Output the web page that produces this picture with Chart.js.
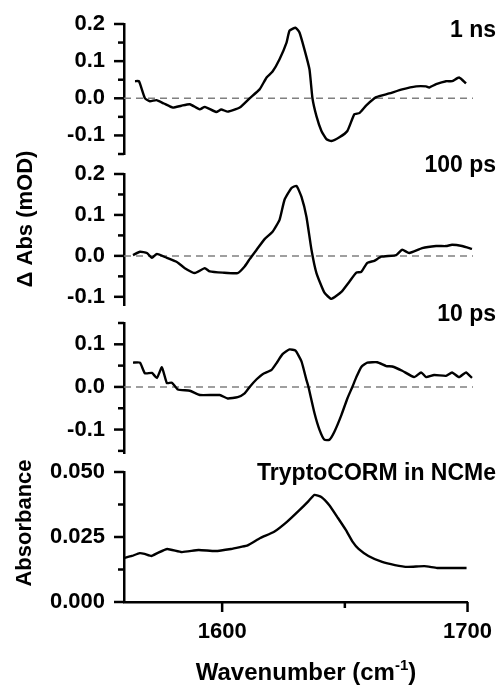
<!DOCTYPE html>
<html><head><meta charset="utf-8">
<script src="https://cdn.jsdelivr.net/npm/chart.js@4"></script>
<style>
html,body{margin:0;padding:0;background:#fff;}
#wrap{position:relative;width:499px;height:686px;overflow:hidden;}
#wrap canvas{position:absolute;left:0;top:0;}
</style></head><body>
<div id="wrap">
<canvas id="c1" width="499" height="686"></canvas>
<canvas id="c2" width="499" height="686"></canvas>
<canvas id="c3" width="499" height="686"></canvas>
<canvas id="c4" width="499" height="686"></canvas>
</div>
<script>
// ---- data ----
const wn1 = [1564.4,1566,1568.4,1570.4,1573,1576,1579.6,1583,1586.4,1590.4,1592.4,1597,1599,1601.6,1606.4,1610.4,1614.4,1617.2,1619.6,1622.4,1625.2,1626.4,1628.8,1630.4,1632.4,1634.4,1635.6,1637.2,1639.2,1641.2,1643.2,1646.4,1649.6,1652.4,1654.4,1657.2,1661.2,1666.4,1671.6,1677.2,1681.2,1682.4,1685.2,1689.2,1691.6,1694.4,1697.2];
const abs1 = [0.046,0.046,0.0,-0.008,-0.005,-0.014,-0.025,-0.02,-0.016,-0.03,-0.023,-0.037,-0.03,-0.036,-0.025,0.0,0.024,0.056,0.072,0.105,0.15,0.182,0.19,0.177,0.131,0.078,0.0,-0.048,-0.088,-0.11,-0.115,-0.105,-0.088,-0.043,-0.04,-0.019,0.003,0.013,0.024,0.032,0.032,0.029,0.038,0.046,0.046,0.056,0.04];

const wn2 = [1563.6,1566.4,1569.2,1571.2,1573.2,1577.2,1581.2,1584.4,1588.4,1592.4,1594.4,1599.6,1605.6,1608.4,1610.4,1613.2,1616.4,1619.6,1622.4,1624.4,1627.2,1629.2,1631.2,1633.2,1635.2,1637.2,1640.4,1643.2,1647.2,1650.4,1653.2,1655.2,1657.6,1660.4,1663.2,1669.2,1671.6,1674.4,1679.6,1685.2,1689.2,1691.6,1695.6,1699.6];
const abs2 = [0.002,0.01,0.007,-0.005,0.005,-0.005,-0.015,-0.03,-0.042,-0.03,-0.038,-0.041,-0.042,-0.026,-0.008,0.015,0.041,0.059,0.088,0.137,0.166,0.171,0.144,0.095,0.015,-0.042,-0.09,-0.105,-0.088,-0.063,-0.041,-0.039,-0.017,-0.012,-0.002,0.002,0.015,0.007,0.019,0.024,0.024,0.027,0.024,0.017];

const wn3 = [1563.6,1566.4,1568.4,1571.2,1573.2,1575.2,1577.2,1579.2,1581.6,1586.4,1590.4,1598.4,1601.6,1605.6,1608.4,1610.4,1613.2,1615.6,1619.2,1621.2,1623.6,1626.4,1628.8,1631.2,1633.2,1634,1636.4,1638.4,1640.4,1642.4,1644.4,1647.2,1649.6,1651.6,1653.2,1655.2,1657.6,1661.6,1665.2,1667.6,1671.6,1676.4,1679.2,1681.2,1684.4,1689.2,1691.6,1694.4,1697.2,1699.6];
const abs3 = [0.057,0.057,0.032,0.033,0.021,0.046,0.009,0.01,-0.006,-0.009,-0.019,-0.019,-0.027,-0.024,-0.015,0.0,0.018,0.03,0.04,0.056,0.077,0.088,0.085,0.06,0.016,0.0,-0.061,-0.1,-0.124,-0.124,-0.105,-0.066,-0.027,0.0,0.023,0.047,0.057,0.058,0.049,0.048,0.038,0.023,0.034,0.023,0.028,0.026,0.034,0.023,0.034,0.021];

const wn4 = [1560,1563.2,1566.4,1568.4,1571.2,1573.6,1577.6,1583.6,1590.4,1597.2,1603.6,1607.6,1610.4,1615.6,1621.2,1626.4,1631.6,1635.2,1637.6,1640.4,1643.6,1647.2,1650.4,1653.2,1655.6,1659.6,1665.2,1670.4,1675.6,1682.4,1687.6,1692.8,1699.6];
const abs4 = [0.0169,0.0177,0.0188,0.0185,0.0177,0.0188,0.0204,0.0192,0.02,0.0196,0.0204,0.0212,0.0218,0.0246,0.027,0.0308,0.0354,0.0388,0.0412,0.0404,0.0373,0.0323,0.0277,0.0231,0.0204,0.0177,0.0154,0.0142,0.0135,0.0138,0.0131,0.0131,0.0131];

const zeroWn = [1560, 1700];
const zeroVal = [0, 0];

const xMajorTicks = [1600, 1700];
const xMinorTicks = [1650];

const panelLabels = ['1 ns', '100 ps', '10 ps', 'TryptoCORM in NCMe'];
const yMajor1 = [-0.1, 0, 0.1, 0.2],  yMinor1 = [-0.15, -0.05, 0.05, 0.15];
const yMajor2 = [-0.1, 0, 0.1, 0.2],  yMinor2 = [-0.05, 0.05, 0.15];
const yMajor3 = [-0.1, 0, 0.1],       yMinor3 = [-0.15, -0.05, 0.05, 0.15];
const yMajor4 = [0, 0.025, 0.05],     yMinor4 = [0.0125, 0.0375];

// ---- drawing ----
const FONT = '"Liberation Sans", Arial, Helvetica, sans-serif';
const tickFont = {family: FONT, size: 22, weight: 'bold'};

function fmt(v, d) {
  if (Math.abs(v) < 1e-9) v = 0;
  return v.toFixed(d);
}

function decor(o) {
  return {
    id: 'decor',
    afterDraw(chart) {
      const ctx = chart.ctx, ys = chart.scales.y, xs = chart.scales.x;
      const L = chart.chartArea.left, B = chart.chartArea.bottom;
      ctx.save();
      ctx.strokeStyle = '#000';
      ctx.lineWidth = 2.5;
      ctx.lineCap = 'butt';
      const seg = (x1, y1, x2, y2) => { ctx.beginPath(); ctx.moveTo(x1, y1); ctx.lineTo(x2, y2); ctx.stroke(); };
      o.yMajor.forEach(v => { const p = ys.getPixelForValue(v); seg(L - 10, p, L, p); });
      o.yMinor.forEach(v => { const p = ys.getPixelForValue(v); seg(L - 6, p, L, p); });
      if (o.xAxis) {
        xMajorTicks.forEach(v => { const p = xs.getPixelForValue(v); seg(p, B, p, B + 10); });
        xMinorTicks.forEach(v => { const p = xs.getPixelForValue(v); seg(p, B, p, B + 6); });
      }
      ctx.fillStyle = '#000';
      ctx.font = 'bold 23px ' + FONT;
      ctx.textAlign = 'right';
      ctx.textBaseline = 'alphabetic';
      ctx.fillText(o.label, 496, o.labelY);
      if (o.yTitle) {
        ctx.save();
        ctx.translate(o.yTitle.x, o.yTitle.y);
        ctx.rotate(-Math.PI / 2);
        ctx.font = 'bold 22px ' + FONT;
        ctx.textAlign = 'center';
        ctx.textBaseline = 'middle';
        ctx.fillText(o.yTitle.text, 0, 0);
        ctx.restore();
      }
      if (o.xAxis) {
        const main = 'Wavenumber (cm', sup = '-1', end = ')';
        ctx.textAlign = 'left';
        ctx.font = 'bold 24px ' + FONT;
        const w1 = ctx.measureText(main).width, w3 = ctx.measureText(end).width;
        ctx.font = 'bold 15px ' + FONT;
        const w2 = ctx.measureText(sup).width;
        let x0 = 306 - (w1 + w2 + w3) / 2;
        const base = 680;
        ctx.font = 'bold 24px ' + FONT;
        ctx.fillText(main, x0, base);
        ctx.font = 'bold 15px ' + FONT;
        ctx.fillText(sup, x0 + w1, base - 10);
        ctx.font = 'bold 24px ' + FONT;
        ctx.fillText(end, x0 + w1 + w2, base);
      }
      ctx.restore();
    }
  };
}

function makePanel(id, xsArr, ysArr, o) {
  const datasets = [{
    data: xsArr.map((x, i) => ({x: x, y: ysArr[i]})),
    borderColor: '#000', borderWidth: 2.4, pointRadius: 0, tension: 0.15, fill: false
  }];
  if (o.zero) {
    datasets.push({
      data: zeroWn.map((x, i) => ({x: x, y: zeroVal[i]})),
      borderColor: '#808080', borderWidth: 1.5, borderDash: [7, 5], pointRadius: 0, fill: false
    });
  }
  const xScale = {
    type: 'linear', min: 1560, max: 1700, display: o.xAxis,
    afterBuildTicks: s => { s.ticks = xMajorTicks.map(v => ({value: v})); },
    border: {display: true, color: '#000', width: 2.5},
    grid: {drawOnChartArea: false, drawTicks: true, tickLength: 10, color: 'rgba(0,0,0,0)'},
    ticks: {font: tickFont, color: '#000', padding: 7, maxRotation: 0, autoSkip: false, callback: v => String(v)}
  };
  if (o.xAxis) xScale.afterFit = s => { s.height = 84; };
  return new Chart(document.getElementById(id), {
    type: 'line',
    data: {datasets},
    options: {
      responsive: false, animation: false, events: [],
      layout: {padding: {top: o.top, bottom: o.bottom, left: 0, right: 26}},
      plugins: {legend: {display: false}, tooltip: {enabled: false}, title: {display: false}},
      scales: {
        x: xScale,
        y: {
          type: 'linear', min: o.yMin, max: o.yMax,
          afterBuildTicks: s => { s.ticks = o.yMajor.map(v => ({value: v})); },
          afterFit: s => { s.width = 124; },
          border: {display: true, color: '#000', width: 2.5},
          grid: {drawOnChartArea: false, drawTicks: true, tickLength: 10, color: 'rgba(0,0,0,0)'},
          ticks: {font: tickFont, color: '#000', padding: 9, autoSkip: false, callback: v => fmt(v, o.digits)}
        }
      }
    },
    plugins: [decor(o)]
  });
}

makePanel('c1', wn1, abs1, {top: 24, bottom: 686 - 154, yMin: -0.15, yMax: 0.2, yMajor: yMajor1, yMinor: yMinor1, digits: 1,
  zero: true, xAxis: false, label: panelLabels[0], labelY: 37, yTitle: {text: 'Δ Abs (mOD)', x: 26, y: 219}});
makePanel('c2', wn2, abs2, {top: 174, bottom: 686 - 305, yMin: -0.12, yMax: 0.2, yMajor: yMajor2, yMinor: yMinor2, digits: 1,
  zero: true, xAxis: false, label: panelLabels[1], labelY: 172});
makePanel('c3', wn3, abs3, {top: 323, bottom: 686 - 453, yMin: -0.155, yMax: 0.15, yMajor: yMajor3, yMinor: yMinor3, digits: 1,
  zero: true, xAxis: false, label: panelLabels[2], labelY: 321});
makePanel('c4', wn4, abs4, {top: 472, bottom: 0, yMin: 0, yMax: 0.05, yMajor: yMajor4, yMinor: yMinor4, digits: 3,
  zero: false, xAxis: true, label: panelLabels[3], labelY: 480, yTitle: {text: 'Absorbance', x: 25, y: 523}});
</script>
</body></html>
